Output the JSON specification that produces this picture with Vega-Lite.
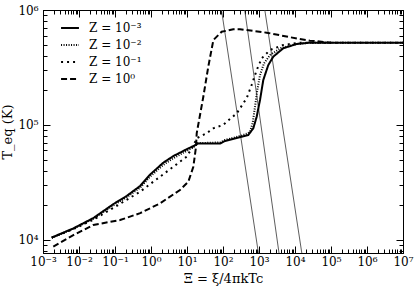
{
  "$schema": "https://vega.github.io/schema/vega-lite/v6.json",
  "width": 360,
  "height": 243,
  "autosize": {"type": "none"},
  "padding": {"left": 43, "top": 10, "right": 13, "bottom": 38},
  "background": "white",
  "config": {
    "view": {"stroke": "black", "strokeWidth": 1},
    "axis": {
      "domainColor": "black",
      "domainWidth": 1,
      "tickColor": "black",
      "tickWidth": 1,
      "grid": false,
      "labelFont": "DejaVu Serif",
      "labelFontSize": 12,
      "labelColor": "black",
      "titleFont": "DejaVu Serif",
      "titleFontSize": 13,
      "titleFontWeight": "normal",
      "titleColor": "black",
      "labelOverlap": false,
      "labelBound": false,
      "labelFlush": false
    },
    "legend": {
      "orient": "none",
      "legendX": 17,
      "legendY": 8,
      "labelFont": "DejaVu Serif",
      "labelFontSize": 12,
      "labelColor": "black",
      "symbolType": "stroke",
      "symbolStrokeWidth": 2,
      "symbolStrokeColor": "black",
      "symbolSize": 320,
      "rowPadding": 1,
      "labelOffset": 9,
      "title": null
    }
  },
  "datasets": {
    "curves": [
      {"x": 0.00175, "T": 10500, "Z": "Z = 10⁻³"},
      {"x": 0.00695, "T": 12600, "Z": "Z = 10⁻³"},
      {"x": 0.025, "T": 15500, "Z": "Z = 10⁻³"},
      {"x": 0.09, "T": 20500, "Z": "Z = 10⁻³"},
      {"x": 0.21, "T": 24100, "Z": "Z = 10⁻³"},
      {"x": 0.5, "T": 29500, "Z": "Z = 10⁻³"},
      {"x": 0.94, "T": 37000, "Z": "Z = 10⁻³"},
      {"x": 2.2, "T": 47000, "Z": "Z = 10⁻³"},
      {"x": 4.2, "T": 53700, "Z": "Z = 10⁻³"},
      {"x": 9.8, "T": 61500, "Z": "Z = 10⁻³"},
      {"x": 16.7, "T": 66600, "Z": "Z = 10⁻³"},
      {"x": 20, "T": 69000, "Z": "Z = 10⁻³"},
      {"x": 83, "T": 69000, "Z": "Z = 10⁻³"},
      {"x": 114, "T": 72600, "Z": "Z = 10⁻³"},
      {"x": 330, "T": 79100, "Z": "Z = 10⁻³"},
      {"x": 504, "T": 81800, "Z": "Z = 10⁻³"},
      {"x": 695, "T": 93600, "Z": "Z = 10⁻³"},
      {"x": 863, "T": 118000, "Z": "Z = 10⁻³"},
      {"x": 1067, "T": 165000, "Z": "Z = 10⁻³"},
      {"x": 1316, "T": 246000, "Z": "Z = 10⁻³"},
      {"x": 1811, "T": 332000, "Z": "Z = 10⁻³"},
      {"x": 2495, "T": 393000, "Z": "Z = 10⁻³"},
      {"x": 4730, "T": 465000, "Z": "Z = 10⁻³"},
      {"x": 11100, "T": 506000, "Z": "Z = 10⁻³"},
      {"x": 26000, "T": 520000, "Z": "Z = 10⁻³"},
      {"x": 100000, "T": 520000, "Z": "Z = 10⁻³"},
      {"x": 10000000, "T": 520000, "Z": "Z = 10⁻³"},

      {"x": 0.00175, "T": 10400, "Z": "Z = 10⁻²"},
      {"x": 0.00695, "T": 12500, "Z": "Z = 10⁻²"},
      {"x": 0.025, "T": 15300, "Z": "Z = 10⁻²"},
      {"x": 0.09, "T": 20000, "Z": "Z = 10⁻²"},
      {"x": 0.21, "T": 23500, "Z": "Z = 10⁻²"},
      {"x": 0.5, "T": 28500, "Z": "Z = 10⁻²"},
      {"x": 0.94, "T": 35500, "Z": "Z = 10⁻²"},
      {"x": 2.2, "T": 45000, "Z": "Z = 10⁻²"},
      {"x": 4.2, "T": 51500, "Z": "Z = 10⁻²"},
      {"x": 9.8, "T": 59500, "Z": "Z = 10⁻²"},
      {"x": 16, "T": 65000, "Z": "Z = 10⁻²"},
      {"x": 20, "T": 69500, "Z": "Z = 10⁻²"},
      {"x": 83, "T": 70500, "Z": "Z = 10⁻²"},
      {"x": 114, "T": 74000, "Z": "Z = 10⁻²"},
      {"x": 330, "T": 81000, "Z": "Z = 10⁻²"},
      {"x": 500, "T": 85000, "Z": "Z = 10⁻²"},
      {"x": 562, "T": 87500, "Z": "Z = 10⁻²"},
      {"x": 668, "T": 104000, "Z": "Z = 10⁻²"},
      {"x": 774, "T": 144000, "Z": "Z = 10⁻²"},
      {"x": 897, "T": 201000, "Z": "Z = 10⁻²"},
      {"x": 1067, "T": 272000, "Z": "Z = 10⁻²"},
      {"x": 1377, "T": 344000, "Z": "Z = 10⁻²"},
      {"x": 2023, "T": 406000, "Z": "Z = 10⁻²"},
      {"x": 4000, "T": 465000, "Z": "Z = 10⁻²"},
      {"x": 11000, "T": 506000, "Z": "Z = 10⁻²"},
      {"x": 26000, "T": 520000, "Z": "Z = 10⁻²"},
      {"x": 10000000, "T": 520000, "Z": "Z = 10⁻²"},

      {"x": 0.00175, "T": 10500, "Z": "Z = 10⁻¹"},
      {"x": 0.00695, "T": 12400, "Z": "Z = 10⁻¹"},
      {"x": 0.025, "T": 15000, "Z": "Z = 10⁻¹"},
      {"x": 0.09, "T": 19000, "Z": "Z = 10⁻¹"},
      {"x": 0.5, "T": 26300, "Z": "Z = 10⁻¹"},
      {"x": 1, "T": 31000, "Z": "Z = 10⁻¹"},
      {"x": 4.16, "T": 43300, "Z": "Z = 10⁻¹"},
      {"x": 9.8, "T": 53000, "Z": "Z = 10⁻¹"},
      {"x": 13.6, "T": 62700, "Z": "Z = 10⁻¹"},
      {"x": 16, "T": 69000, "Z": "Z = 10⁻¹"},
      {"x": 18.6, "T": 76600, "Z": "Z = 10⁻¹"},
      {"x": 35, "T": 84700, "Z": "Z = 10⁻¹"},
      {"x": 54, "T": 93600, "Z": "Z = 10⁻¹"},
      {"x": 102, "T": 100000, "Z": "Z = 10⁻¹"},
      {"x": 127, "T": 107000, "Z": "Z = 10⁻¹"},
      {"x": 240, "T": 126000, "Z": "Z = 10⁻¹"},
      {"x": 455, "T": 171000, "Z": "Z = 10⁻¹"},
      {"x": 626, "T": 223000, "Z": "Z = 10⁻¹"},
      {"x": 863, "T": 300000, "Z": "Z = 10⁻¹"},
      {"x": 1189, "T": 380000, "Z": "Z = 10⁻¹"},
      {"x": 2023, "T": 449000, "Z": "Z = 10⁻¹"},
      {"x": 4730, "T": 496000, "Z": "Z = 10⁻¹"},
      {"x": 13800, "T": 520000, "Z": "Z = 10⁻¹"},
      {"x": 10000000, "T": 520000, "Z": "Z = 10⁻¹"},

      {"x": 0.00193, "T": 8750, "Z": "Z = 10⁰"},
      {"x": 0.00695, "T": 11000, "Z": "Z = 10⁰"},
      {"x": 0.025, "T": 13500, "Z": "Z = 10⁰"},
      {"x": 0.138, "T": 14900, "Z": "Z = 10⁰"},
      {"x": 0.5, "T": 17100, "Z": "Z = 10⁰"},
      {"x": 1.78, "T": 20800, "Z": "Z = 10⁰"},
      {"x": 6.4, "T": 27200, "Z": "Z = 10⁰"},
      {"x": 10.9, "T": 32100, "Z": "Z = 10⁰"},
      {"x": 15, "T": 43300, "Z": "Z = 10⁰"},
      {"x": 17.8, "T": 64700, "Z": "Z = 10⁰"},
      {"x": 18.6, "T": 84700, "Z": "Z = 10⁰"},
      {"x": 28.4, "T": 176000, "Z": "Z = 10⁰"},
      {"x": 39, "T": 321000, "Z": "Z = 10⁰"},
      {"x": 54, "T": 548000, "Z": "Z = 10⁰"},
      {"x": 92, "T": 647000, "Z": "Z = 10⁰"},
      {"x": 193, "T": 680000, "Z": "Z = 10⁰"},
      {"x": 297, "T": 680000, "Z": "Z = 10⁰"},
      {"x": 1637, "T": 635000, "Z": "Z = 10⁰"},
      {"x": 7260, "T": 580000, "Z": "Z = 10⁰"},
      {"x": 26000, "T": 541000, "Z": "Z = 10⁰"},
      {"x": 76000, "T": 525000, "Z": "Z = 10⁰"},
      {"x": 100000, "T": 520000, "Z": "Z = 10⁰"}
    ],
    "diag": [
      {"x": 90.8, "T": 1000000, "line": "a"},
      {"x": 962, "T": 7700, "line": "a"},
      {"x": 401, "T": 1000000, "line": "b"},
      {"x": 3594, "T": 7700, "line": "b"},
      {"x": 1449, "T": 1000000, "line": "c"},
      {"x": 15450, "T": 7700, "line": "c"}
    ]
  },
  "layer": [
    {
      "data": {"name": "diag"},
      "mark": {"type": "line", "color": "#333333", "strokeWidth": 0.8, "clip": true},
      "encoding": {
        "x": {
          "field": "x", "type": "quantitative",
          "scale": {"type": "log", "domain": [0.001, 10000000], "nice": false},
          "axis": {
            "orient": "top", "labels": false, "title": null, "domain": true,
            "values": [0.001,0.002,0.003,0.004,0.005,0.006,0.007,0.008,0.009,0.01,0.02,0.03,0.04,0.05,0.06,0.07,0.08,0.09,0.1,0.2,0.3,0.4,0.5,0.6,0.7,0.8,0.9,1,2,3,4,5,6,7,8,9,10,20,30,40,50,60,70,80,90,100,200,300,400,500,600,700,800,900,1000,2000,3000,4000,5000,6000,7000,8000,9000,10000,20000,30000,40000,50000,60000,70000,80000,90000,100000,200000,300000,400000,500000,600000,700000,800000,900000,1000000,2000000,3000000,4000000,5000000,6000000,7000000,8000000,9000000,10000000],
            "tickSize": {"condition": {"test": "abs(log(datum.value)/LN10 - round(log(datum.value)/LN10)) < 0.001", "value": -7}, "value": -4}
          }
        },
        "y": {
          "field": "T", "type": "quantitative",
          "scale": {"type": "log", "domain": [7700, 1000000], "nice": false},
          "axis": {
            "orient": "right", "labels": false, "title": null, "domain": true,
            "values": [8000,9000,10000,20000,30000,40000,50000,60000,70000,80000,90000,100000,200000,300000,400000,500000,600000,700000,800000,900000,1000000],
            "tickSize": {"condition": {"test": "abs(log(datum.value)/LN10 - round(log(datum.value)/LN10)) < 0.001", "value": -7}, "value": -4}
          }
        },
        "detail": {"field": "line"}
      }
    },
    {
      "data": {"name": "curves"},
      "mark": {"type": "line", "color": "black", "strokeWidth": 2},
      "encoding": {
        "x": {
          "field": "x", "type": "quantitative",
          "scale": {"type": "log", "domain": [0.001, 10000000], "nice": false},
          "axis": {
            "orient": "bottom", "title": "Ξ = ξ/4πkTc", "titlePadding": 2,
            "values": [0.001,0.002,0.003,0.004,0.005,0.006,0.007,0.008,0.009,0.01,0.02,0.03,0.04,0.05,0.06,0.07,0.08,0.09,0.1,0.2,0.3,0.4,0.5,0.6,0.7,0.8,0.9,1,2,3,4,5,6,7,8,9,10,20,30,40,50,60,70,80,90,100,200,300,400,500,600,700,800,900,1000,2000,3000,4000,5000,6000,7000,8000,9000,10000,20000,30000,40000,50000,60000,70000,80000,90000,100000,200000,300000,400000,500000,600000,700000,800000,900000,1000000,2000000,3000000,4000000,5000000,6000000,7000000,8000000,9000000,10000000],
            "tickSize": {"condition": {"test": "abs(log(datum.value)/LN10 - round(log(datum.value)/LN10)) < 0.001", "value": -7}, "value": -4},
            "labelPadding": 10,
            "labelExpr": "abs(log(datum.value)/LN10 - round(log(datum.value)/LN10)) < 0.001 ? '10' + (round(log(datum.value)/LN10) < 0 ? '⁻' : '') + ['⁰','¹','²','³','⁴','⁵','⁶','⁷','⁸','⁹'][abs(round(log(datum.value)/LN10))] : ''"
          }
        },
        "y": {
          "field": "T", "type": "quantitative",
          "scale": {"type": "log", "domain": [7700, 1000000], "nice": false},
          "axis": {
            "orient": "left", "title": "T_eq (K)", "titlePadding": 3,
            "values": [8000,9000,10000,20000,30000,40000,50000,60000,70000,80000,90000,100000,200000,300000,400000,500000,600000,700000,800000,900000,1000000],
            "tickSize": {"condition": {"test": "abs(log(datum.value)/LN10 - round(log(datum.value)/LN10)) < 0.001", "value": -7}, "value": -4},
            "labelPadding": 12,
            "labelExpr": "abs(log(datum.value)/LN10 - round(log(datum.value)/LN10)) < 0.001 ? '10' + (round(log(datum.value)/LN10) < 0 ? '⁻' : '') + ['⁰','¹','²','³','⁴','⁵','⁶','⁷','⁸','⁹'][abs(round(log(datum.value)/LN10))] : ''"
          }
        },
        "strokeDash": {
          "field": "Z", "type": "nominal",
          "scale": {
            "domain": ["Z = 10⁻³", "Z = 10⁻²", "Z = 10⁻¹", "Z = 10⁰"],
            "range": [[1, 0], [1, 1.5], [2, 4], [6, 3]]
          },
          "legend": {"orient": "none"}
        }
      }
    }
  ],
  "resolve": {"axis": {"x": "independent", "y": "independent"}}
}
